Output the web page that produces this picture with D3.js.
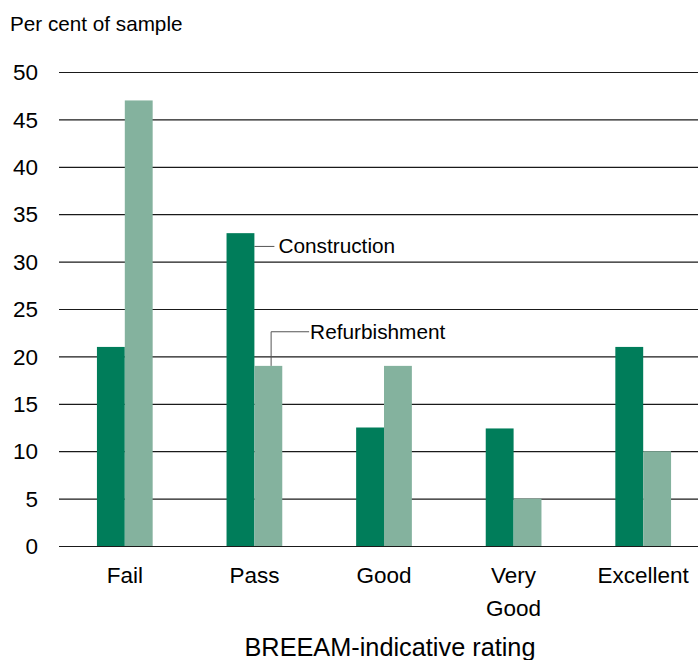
<!DOCTYPE html>
<html>
<head>
<meta charset="utf-8">
<script src="https://cdn.jsdelivr.net/npm/d3@7"></script>
<style>
  body { margin: 0; background: #fff; }
  svg { font-family: "Liberation Sans", Arial, sans-serif; }
</style>
</head>
<body>
<svg id="chart" width="698" height="660"></svg>
<script>
// BREEAM-indicative rating, per cent of sample
const categories = ['Fail', 'Pass', 'Good', 'Very Good', 'Excellent'];
const seriesNames = ['Construction', 'Refurbishment'];
const construction = [21, 33, 12.5, 12.4, 21];
const refurbishment = [47, 19, 19, 5, 10];
const yTicks = [0, 5, 10, 15, 20, 25, 30, 35, 40, 45, 50];

const COLORS = ['#007d5a', '#84b29e'];

const PLOT_LEFT_PX = 59;
const PLOT_RIGHT_PX = 698;
const PLOT_TOP_PX = 72;
const PLOT_BOTTOM_PX = 546;

const svg = d3.select('#chart');

const rows = categories.map((c, i) => ({
  category: c,
  values: [construction[i], refurbishment[i]]
}));

const x0 = d3.scaleBand()
  .domain(categories)
  .range([60, 708])
  .paddingInner(0.57)
  .paddingOuter(0.285);

const x1 = d3.scaleBand()
  .domain(seriesNames)
  .range([0, x0.bandwidth()]);

const y = d3.scaleLinear()
  .domain([0, 50])
  .range([PLOT_BOTTOM_PX, PLOT_TOP_PX]);

// gridlines + y tick labels
const yAxis = svg.append('g')
  .attr('transform', `translate(${PLOT_RIGHT_PX},0)`)
  .call(d3.axisLeft(y)
    .tickValues(yTicks)
    .tickSize(PLOT_RIGHT_PX - PLOT_LEFT_PX)
    .tickPadding(21));

yAxis.select('.domain').remove();
yAxis.selectAll('line')
  .attr('stroke', '#1a1a1a')
  .attr('stroke-width', 1.2);
yAxis.selectAll('text')
  .attr('fill', '#000')
  .attr('dy', '0.34em')
  .style('font-size', '22.5px')
  .style('font-family', '"Liberation Sans", Arial, sans-serif');

// bars
const groups = svg.append('g')
  .selectAll('g')
  .data(rows)
  .join('g')
  .attr('transform', d => `translate(${x0(d.category)},0)`);

groups.selectAll('rect')
  .data(d => d.values.map((v, i) => ({ key: seriesNames[i], value: v, idx: i })))
  .join('rect')
  .attr('x', d => x1(d.key))
  .attr('y', d => y(d.value))
  .attr('width', x1.bandwidth())
  .attr('height', d => y(0) - y(d.value))
  .attr('fill', d => COLORS[d.idx]);

// x axis category labels
const xAxis = svg.append('g')
  .attr('transform', `translate(0,${PLOT_BOTTOM_PX})`)
  .call(d3.axisBottom(x0).tickSize(0).tickPadding(0));

xAxis.select('.domain').remove();
xAxis.selectAll('text')
  .text(null)
  .attr('y', 37)
  .attr('dy', null)
  .attr('fill', '#000')
  .style('font-size', '22.5px')
  .style('font-family', '"Liberation Sans", Arial, sans-serif')
  .each(function (d) {
    const el = d3.select(this);
    d.split(' ').forEach((word, i) => {
      el.append('tspan')
        .attr('x', 0)
        .attr('dy', i === 0 ? 0 : 33)
        .text(word);
    });
  });

// axis titles
svg.append('text')
  .attr('x', 10)
  .attr('y', 31)
  .style('font-size', '20.7px')
  .text('Per cent of sample');

svg.append('text')
  .attr('x', 390)
  .attr('y', 656)
  .attr('text-anchor', 'middle')
  .style('font-size', '25.3px')
  .text('BREEAM-indicative rating');

// callout labels on the Pass group
const passX = x0('Pass');
const consRight = passX + x1('Construction') + x1.bandwidth();
const refMid = passX + x1('Refurbishment') + x1.bandwidth() * 0.6;

const consY = y(31.6);
svg.append('line')
  .attr('x1', consRight).attr('x2', consRight + 20)
  .attr('y1', consY).attr('y2', consY)
  .attr('stroke', '#555').attr('stroke-width', 1);
svg.append('text')
  .attr('x', consRight + 24)
  .attr('y', consY + 7)
  .style('font-size', '20.8px')
  .text('Construction');

const refY = y(22.6);
svg.append('path')
  .attr('d', `M${refMid},${y(19)}V${refY}H${refMid + 38}`)
  .attr('fill', 'none')
  .attr('stroke', '#555').attr('stroke-width', 1);
svg.append('text')
  .attr('x', refMid + 39)
  .attr('y', refY + 7)
  .style('font-size', '20.8px')
  .text('Refurbishment');
</script>
</body>
</html>
